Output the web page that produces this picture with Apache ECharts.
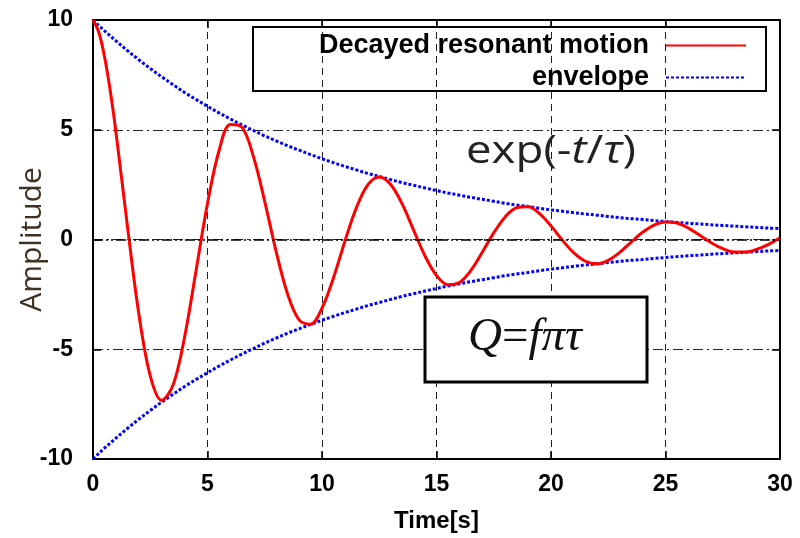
<!DOCTYPE html>
<html>
<head>
<meta charset="utf-8">
<script src="https://cdn.jsdelivr.net/npm/echarts@6/dist/echarts.min.js"></script>
<style>html,body{margin:0;padding:0;background:#fff}#c{width:800px;height:538px}</style>
</head>
<body>
<div id="c"></div>
<script>
// ---- data ----
const timeS = [0,0.25,0.5,0.75,1,1.5,2,2.5,3,3.5,4,4.5,5,5.5,6,6.5,7,7.5,8,8.5,9,9.5,10,10.5,11,11.5,12,12.5,13,13.5,14,14.5,15,15.5,16,16.5,17,17.5,18,18.5,19,19.5,20,20.5,21,21.5,22,22.5,23,23.5,24,24.5,25,25.5,26,26.5,27,27.5,28,28.5,29,29.5,30];
const motion = [10,9.45,8.35,6.80,4.91,0.64,-3.37,-6.21,-7.33,-6.62,-4.44,-1.42,1.64,4.03,5.24,5.12,3.80,1.73,-0.56,-2.49,-3.66,-3.86,-3.13,-1.75,-0.08,1.44,2.49,2.85,2.51,1.62,0.43,-0.75,-1.64,-2.06,-1.96,-1.41,-0.58,0.30,1.03,1.45,1.49,1.18,0.62,-0.03,-0.61,-0.99,-1.11,-0.95,-0.59,-0.12,0.33,0.66,0.80,0.75,0.52,0.19,-0.15,-0.42,-0.57,-0.57,-0.44,-0.22,0.08];
const envUpper = [10.00,9.75,9.51,9.28,9.05,8.61,8.19,7.79,7.41,7.05,6.70,6.38,6.07,5.77,5.49,5.22,4.97,4.72,4.49,4.27,4.07,3.87,3.68,3.50,3.33,3.17,3.01,2.87,2.73,2.59,2.47,2.35,2.23,2.12,2.02,1.92,1.83,1.74,1.65,1.57,1.50,1.42,1.35,1.29,1.22,1.16,1.11,1.05,1.00,0.95,0.91,0.86,0.82,0.78,0.74,0.71,0.67,0.64,0.61,0.58,0.55,0.52,0.50];
const envLower = [-10.00,-9.75,-9.51,-9.28,-9.05,-8.61,-8.19,-7.79,-7.41,-7.05,-6.70,-6.38,-6.07,-5.77,-5.49,-5.22,-4.97,-4.72,-4.49,-4.27,-4.07,-3.87,-3.68,-3.50,-3.33,-3.17,-3.01,-2.87,-2.73,-2.59,-2.47,-2.35,-2.23,-2.12,-2.02,-1.92,-1.83,-1.74,-1.65,-1.57,-1.50,-1.42,-1.35,-1.29,-1.22,-1.16,-1.11,-1.05,-1.00,-0.95,-0.91,-0.86,-0.82,-0.78,-0.74,-0.71,-0.67,-0.64,-0.61,-0.58,-0.55,-0.52,-0.50];
const seriesNames = ['Decayed resonant motion', 'envelope'];
const xTitle = 'Time[s]';
const yTitle = 'Amplitude';

const pairs = (ys) => timeS.map((t, i) => [t, ys[i]]);

const chart = echarts.init(document.getElementById('c'), null, {renderer: 'canvas'});
const tickFont = {fontFamily: 'Liberation Sans, Arial, sans-serif', fontWeight: 'bold', fontSize: 23, color: '#000'};
const frame = {show: true, onZero: false, lineStyle: {color: '#000', width: 2}};
const ticksIn = {show: true, inside: true, length: 8, lineStyle: {color: '#000', width: 1.5}};

chart.setOption({
  animation: false,
  backgroundColor: '#fff',
  grid: {left: 93, right: 20, top: 20, bottom: 79, containLabel: false, outerBoundsMode: 'none'},
  legend: {
    left: 253, top: 27, orient: 'vertical', align: 'right',
    padding: [5, 19, 0, 10], itemGap: 5, itemWidth: 80, itemHeight: 2,
    borderColor: '#000', borderWidth: 2,
    data: seriesNames,
    textStyle: {fontFamily: 'Liberation Sans, Arial, sans-serif', fontWeight: 'bold', fontSize: 27,
      color: '#000', width: 386, lineHeight: 22, align: 'right', padding: [0, 12, 0, 0]}
  },
  xAxis: [{
    type: 'value', min: 0, max: 30, interval: 5, position: 'bottom',
    name: xTitle, nameLocation: 'middle', nameGap: 50, nameMoveOverlap: false,
    nameTextStyle: {fontFamily: 'Liberation Sans, Arial, sans-serif', fontWeight: 'bold', fontSize: 24, color: '#000'},
    axisLine: frame, axisTick: ticksIn,
    axisLabel: Object.assign({margin: 14}, tickFont),
    splitLine: {show: true, lineStyle: {color: '#222', width: 1, type: [7, 5]}}
  }, {
    type: 'value', min: 0, max: 30, interval: 5, position: 'top',
    axisLine: frame, axisTick: ticksIn, axisLabel: {show: false}, splitLine: {show: false}
  }],
  yAxis: [{
    type: 'value', min: -10, max: 10, interval: 5, position: 'left',
    name: yTitle, nameLocation: 'middle', nameGap: 46, nameRotate: 90, nameMoveOverlap: false,
    nameTextStyle: {fontFamily: 'Open Sans, Noto Sans, sans-serif', fontSize: 30, color: '#3d3222'},
    axisLine: frame, axisTick: ticksIn,
    axisLabel: Object.assign({margin: 20}, tickFont),
    splitLine: {show: true, lineStyle: {color: '#222', width: 1, type: [10, 4, 2, 4]}}
  }, {
    type: 'value', min: -10, max: 10, interval: 5, position: 'right',
    axisLine: frame, axisTick: ticksIn, axisLabel: {show: false}, splitLine: {show: false}
  }],
  series: [{
    name: seriesNames[0], type: 'line', xAxisIndex: 0, yAxisIndex: 0,
    data: pairs(motion), smooth: 0.35, showSymbol: false, symbol: 'none', z: 4,
    lineStyle: {color: '#ff0000', width: 3}, itemStyle: {color: '#ff0000'}
  }, {
    name: seriesNames[1], type: 'line', xAxisIndex: 0, yAxisIndex: 0,
    data: pairs(envUpper), smooth: 0.35, showSymbol: false, symbol: 'none', z: 3,
    lineStyle: {color: '#0000ff', width: 3, type: [3, 2]}, itemStyle: {color: '#0000ff'},
    markLine: {silent: true, symbol: 'none', label: {show: false},
      lineStyle: {color: '#000', width: 1.5, type: [10, 3, 2, 3, 2, 3]},
      data: [{yAxis: 0}]}
  }, {
    name: seriesNames[1], type: 'line', xAxisIndex: 0, yAxisIndex: 0,
    data: pairs(envLower), smooth: 0.35, showSymbol: false, symbol: 'none', z: 3,
    lineStyle: {color: '#0000ff', width: 3, type: [3, 2]}, itemStyle: {color: '#0000ff'}
  }],
  graphic: [{
    type: 'text', x: 551, y: 152, scaleX: 1.2, originX: 0, z: 10,
    style: {
      text: '{n|exp(-}{i|t}{n|/}{i|τ}{n|)}',
      align: 'center', verticalAlign: 'middle',
      rich: {
        n: {fontFamily: 'Open Sans, Noto Sans, sans-serif', fontSize: 38, fill: '#222'},
        i: {fontFamily: 'Open Sans, Noto Sans, sans-serif', fontSize: 38, fontStyle: 'italic', fill: '#222'}
      }
    }
  }, {
    type: 'rect', z: 10,
    shape: {x: 425, y: 297, width: 222, height: 85},
    style: {fill: '#fff', stroke: '#000', lineWidth: 3}
  }, {
    type: 'text', x: 525, y: 338, z: 11,
    style: {
      text: '{i|Q}{n|=}{i|fπτ}',
      align: 'center', verticalAlign: 'middle',
      rich: {
        i: {fontFamily: 'Liberation Serif, DejaVu Serif, serif', fontStyle: 'italic', fontSize: 47, fill: '#111'},
        n: {fontFamily: 'Liberation Serif, DejaVu Serif, serif', fontSize: 47, fill: '#111'}
      }
    }
  }]
});
</script>
</body>
</html>
